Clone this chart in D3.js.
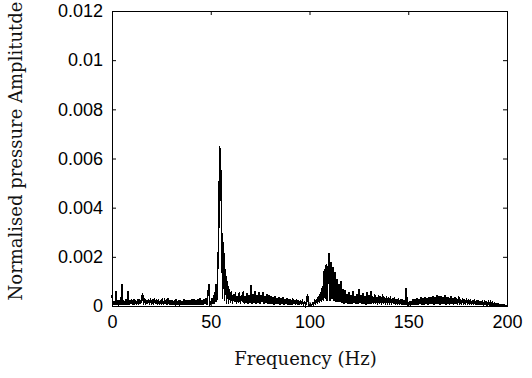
<!DOCTYPE html>
<html>
<head>
<meta charset="utf-8">
<script src="https://cdn.jsdelivr.net/npm/d3@7"></script>
<style>
  body { margin: 0; background: #fff; }
  svg { display: block; }
</style>
</head>
<body>
<div id="container"></div>
<script>
// axis ticks
const xTicks = [0, 50, 100, 150, 200];
const yTicks = [0, 0.002, 0.004, 0.006, 0.008, 0.01, 0.012];

// spectrum sampled every 0.5 Hz from 0 to 200 Hz, amplitude in units of 1e-4
const df = 0.5;
const amp = [
  4.5,0.4,1.6,0.3,6.0,0.5,2.0,0.6,2.3,0.4,9.0,0.5,1.9,0.6,2.6,0.3,6.0,0.5,2.4,0.7,
  2.6,0.4,2.8,0.6,2.2,0.5,3.0,0.4,2.7,0.8,2.9,5.3,0.6,3.1,0.4,2.5,0.7,2.8,0.5,3.2,
  0.6,2.9,0.4,3.3,0.7,2.6,0.5,3.0,0.3,2.4,0.6,3.1,0.5,2.2,0.8,2.7,0.4,3.4,0.6,2.5,
  0.5,2.3,0.4,2.0,0.7,2.6,0.3,1.9,0.6,2.4,0.5,2.1,0.4,2.8,0.6,2.2,0.3,2.5,0.7,2.0,
  0.5,2.6,0.4,2.9,0.6,2.3,0.4,2.7,0.5,3.1,0.6,2.4,0.3,2.8,0.7,3.3,0.5,4.2,9.0,0.6,
  1.0,3.2,0.8,4.5,1.0,9,1.5,14,27,65,59,34,3,26,2,15,1,10,1,7,
  1.2,6.0,1.0,4.8,1.5,5.5,0.8,4.2,1.3,5.8,0.9,4.5,1.6,6.2,1.0,4.0,1.2,5.2,0.7,4.6,
  1.1,8.5,0.9,5.0,1.4,6.0,0.8,4.4,1.2,5.6,1.0,4.3,1.5,5.8,0.7,4.1,1.1,5.0,0.9,4.6,
  0.8,4.2,1.0,3.6,0.6,4.0,0.9,3.4,0.7,3.8,0.5,3.0,0.8,3.5,0.6,2.9,0.7,3.2,0.5,2.8,
  0.6,2.6,0.4,3.0,0.7,2.4,0.5,2.7,0.3,2.2,0.6,2.5,0.4,1.9,0.5,2.1,0.3,1.6,5.0,0.4,
  0.2,0.8,0.1,1.0,0.3,1.8,0.5,2.8,0.8,4.0,1.2,5.5,1.5,8,2,15,3,17,2,16,
  21.5,2,18,3,16,2,14,1.5,11,1.5,9,1.5,10,1.2,7,1.0,6.5,1.2,5,1.0,
  5.5,1.0,4.6,0.8,6.0,1.2,4.2,0.9,5.0,0.7,6.8,1.1,4.5,0.8,5.2,1.0,4.0,0.6,5.6,0.9,
  4.4,0.8,6.2,1.0,4.0,0.7,5.0,0.9,3.8,0.6,4.6,0.8,3.9,0.5,4.8,0.7,3.6,0.6,4.2,0.5,
  3.5,0.6,3.9,0.5,3.2,0.7,3.6,0.4,3.0,0.6,3.3,0.4,2.8,0.5,3.0,0.3,2.4,0.4,7.3,0.3,
  0.2,1.5,0.3,2.0,0.5,2.8,0.4,3.0,0.6,3.3,0.5,2.9,0.7,3.5,0.6,3.2,0.5,3.6,0.8,3.4,
  0.6,3.8,0.7,3.5,0.9,4.2,0.6,3.7,0.8,4.4,0.7,3.9,0.6,4.0,0.9,3.6,0.7,4.3,0.6,3.8,
  0.7,3.5,0.6,4.0,0.8,3.4,0.5,3.7,0.7,3.2,0.6,4.2,0.5,3.0,0.6,3.3,0.4,2.8,0.5,3.1,
  0.4,2.6,0.5,2.9,0.3,2.4,0.5,2.7,0.4,2.2,0.3,2.5,0.4,2.0,0.3,2.2,0.2,1.8,0.3,2.0,
  0.2,1.6,0.3,1.7,0.2,1.4,0.2,1.2,0.1,1.0,0.2,0.9,0.1,0.7,0.1,0.5,0.1,0.4,0.1,0.2,
  0
];

const data = amp.map((a, i) => ({ f: i * df, a: a * 1e-4 }));

// chart dimensions
const w = 532;
const h = 378;
const padL = 112, padR = 507, padT = 11, padB = 306;

const xScale = d3.scaleLinear().domain([0, 200]).range([padL, padR]);
const yScale = d3.scaleLinear().domain([0, 0.012]).range([padB, padT]);

const svg = d3.select('#container')
    .append('svg')
    .attr('width', w)
    .attr('height', h)
    .style('background', '#fff');

// spectrum line
svg.append('path')
    .datum(data)
    .attr('fill', 'none')
    .attr('stroke', '#000')
    .attr('stroke-width', 1.5)
    .attr('stroke-linejoin', 'miter')
    .attr('shape-rendering', 'crispEdges')
    .attr('d', d3.line().x(d => xScale(d.f)).y(d => yScale(d.a)));

const fmtY = d => d === 0 ? '0' : String(+d.toFixed(3));

// axes, ticks pointing inward on all sides
const styleAxis = g => {
    g.select('.domain').remove();
    g.selectAll('line').attr('stroke', '#000');
    g.selectAll('text')
        .attr('fill', '#000')
        .style('font-family', '"Liberation Sans", Arial, sans-serif')
        .style('font-size', '18px');
};

svg.append('g')
    .attr('transform', `translate(0, ${padB})`)
    .call(d3.axisBottom(xScale).tickValues(xTicks).tickSizeInner(-4).tickSizeOuter(0).tickPadding(9))
    .call(styleAxis);

svg.append('g')
    .attr('transform', `translate(0, ${padT})`)
    .call(d3.axisTop(xScale).tickValues(xTicks).tickSizeInner(-4).tickSizeOuter(0).tickFormat(''))
    .call(styleAxis);

svg.append('g')
    .attr('transform', `translate(${padL}, 0)`)
    .call(d3.axisLeft(yScale).tickValues(yTicks).tickSizeInner(-4).tickSizeOuter(0).tickPadding(9).tickFormat(fmtY))
    .call(styleAxis);

svg.append('g')
    .attr('transform', `translate(${padR}, 0)`)
    .call(d3.axisRight(yScale).tickValues(yTicks).tickSizeInner(-4).tickSizeOuter(0).tickFormat(''))
    .call(styleAxis);

// frame
svg.append('rect')
    .attr('x', padL + 0.5)
    .attr('y', padT + 0.5)
    .attr('width', padR - padL)
    .attr('height', padB - padT)
    .attr('fill', 'none')
    .attr('stroke', '#000')
    .attr('stroke-width', 1);

// axis titles
svg.append('text')
    .attr('x', (padL + padR) / 2 - 4)
    .attr('y', 365)
    .attr('text-anchor', 'middle')
    .style('font-family', '"DejaVu Serif", serif')
    .style('font-size', '18px')
    .attr('fill', '#111')
    .text('Frequency (Hz)');

svg.append('text')
    .attr('transform', 'translate(22, 151) rotate(-90)')
    .attr('text-anchor', 'middle')
    .style('font-family', '"DejaVu Serif", serif')
    .style('font-size', '18px')
    .attr('fill', '#111')
    .text('Normalised pressure Amplitutde');
</script>
</body>
</html>
